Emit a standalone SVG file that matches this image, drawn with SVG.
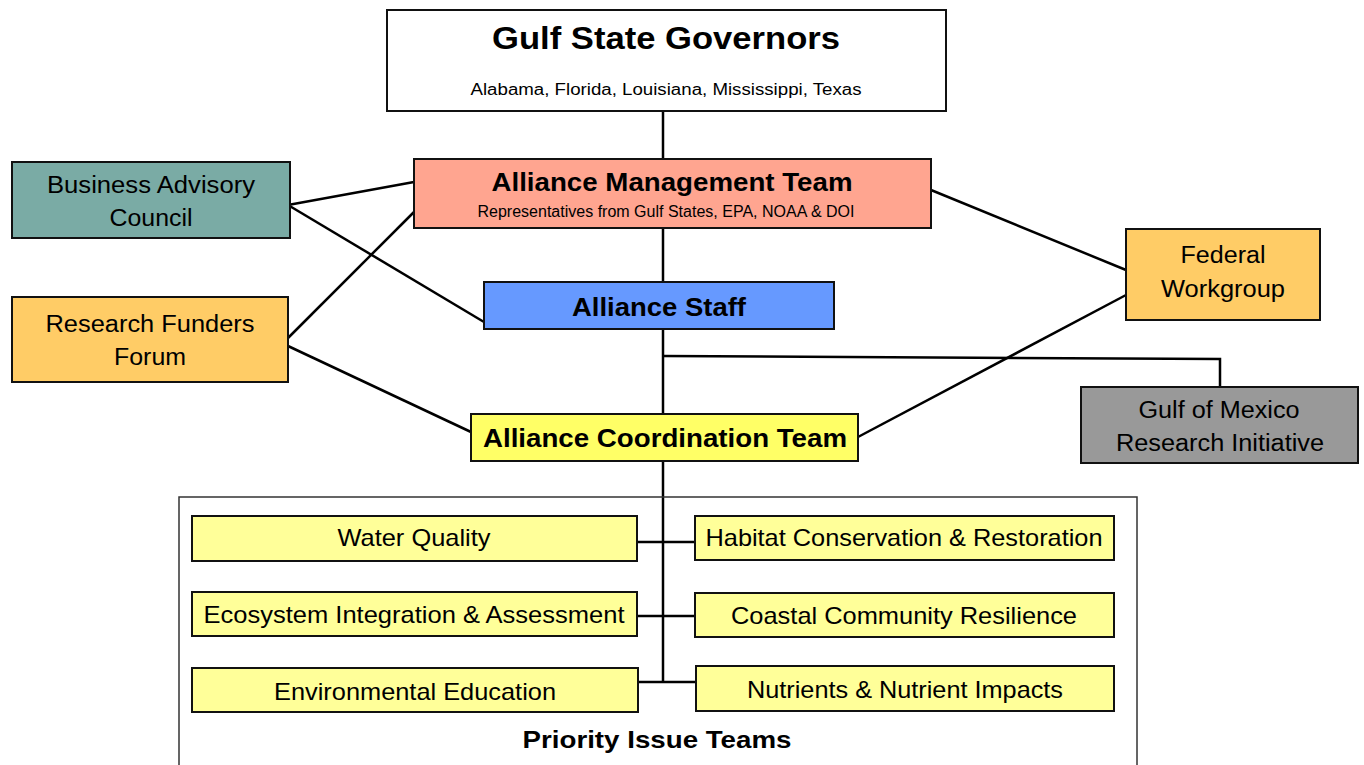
<svg xmlns="http://www.w3.org/2000/svg" width="1364" height="765" viewBox="0 0 1364 765">
<style>
.box{stroke:#111;stroke-width:2}
.t{font-family:"Liberation Sans",Arial,sans-serif;fill:#000;text-anchor:middle}
.b{font-weight:bold}
.c{stroke:#000;stroke-width:2.5;fill:none}
</style>
<rect width="1364" height="765" fill="#fff"/>
<g id="connectors">
<line class="c" x1="663" y1="111" x2="663" y2="159"/>
<line class="c" x1="663" y1="228" x2="663" y2="282"/>
<line class="c" x1="663" y1="329" x2="663" y2="414"/>
<line class="c" x1="663" y1="461" x2="663" y2="682"/>
<polyline class="c" points="663,356 1220,359 1220,387"/>
<line class="c" x1="288" y1="205" x2="414" y2="182"/>
<line class="c" x1="288" y1="205" x2="484" y2="322"/>
<line class="c" x1="288" y1="338" x2="414" y2="212"/>
<line class="c" x1="288" y1="346" x2="471" y2="432"/>
<line class="c" x1="931" y1="190" x2="1126" y2="270"/>
<line class="c" x1="858" y1="437" x2="1126" y2="295"/>
<line class="c" x1="637" y1="542" x2="695" y2="542"/>
<line class="c" x1="637" y1="616" x2="695" y2="616"/>
<line class="c" x1="638" y1="682" x2="696" y2="682"/>
</g>
<g id="governors">
<rect class="box" x="387" y="10" width="559" height="101" fill="#fff"/>
<text class="t b" x="666" y="49" font-size="32" textLength="348" lengthAdjust="spacingAndGlyphs">Gulf State Governors</text>
<text class="t" x="666" y="95" font-size="16" textLength="391" lengthAdjust="spacingAndGlyphs">Alabama, Florida, Louisiana, Mississippi, Texas</text>
</g>
<g id="management">
<rect class="box" x="414" y="159" width="517" height="69" fill="#FFA590"/>
<text class="t b" x="672" y="191" font-size="25" textLength="361" lengthAdjust="spacingAndGlyphs">Alliance Management Team</text>
<text class="t" x="666" y="217" font-size="16" textLength="377" lengthAdjust="spacingAndGlyphs">Representatives  from Gulf States, EPA, NOAA &amp; DOI</text>
</g>
<g id="business">
<rect class="box" x="12" y="162" width="278" height="76" fill="#7AABA5"/>
<text class="t" x="151" y="193" font-size="23" textLength="208" lengthAdjust="spacingAndGlyphs">Business Advisory</text>
<text class="t" x="151" y="226" font-size="23" textLength="83" lengthAdjust="spacingAndGlyphs">Council</text>
</g>
<g id="funders">
<rect class="box" x="12" y="297" width="276" height="85" fill="#FFCC66"/>
<text class="t" x="150" y="332" font-size="23" textLength="209" lengthAdjust="spacingAndGlyphs">Research Funders</text>
<text class="t" x="150" y="365" font-size="23" textLength="72" lengthAdjust="spacingAndGlyphs">Forum</text>
</g>
<g id="staff">
<rect class="box" x="484" y="282" width="350" height="47" fill="#6699FF"/>
<text class="t b" x="659" y="316" font-size="26" textLength="174" lengthAdjust="spacingAndGlyphs">Alliance Staff</text>
</g>
<g id="federal">
<rect class="box" x="1126" y="229" width="194" height="91" fill="#FFCC66"/>
<text class="t" x="1223" y="263" font-size="23" textLength="85" lengthAdjust="spacingAndGlyphs">Federal</text>
<text class="t" x="1223" y="297" font-size="23" textLength="124" lengthAdjust="spacingAndGlyphs">Workgroup</text>
</g>
<g id="gomri">
<rect class="box" x="1081" y="387" width="277" height="76" fill="#999999"/>
<text class="t" x="1219" y="418" font-size="23" textLength="161" lengthAdjust="spacingAndGlyphs">Gulf of Mexico</text>
<text class="t" x="1220" y="451" font-size="23" textLength="208" lengthAdjust="spacingAndGlyphs">Research Initiative</text>
</g>
<g id="coordination">
<rect class="box" x="471" y="414" width="387" height="47" fill="#FFFF66"/>
<text class="t b" x="665" y="447" font-size="26" textLength="364" lengthAdjust="spacingAndGlyphs">Alliance Coordination Team</text>
</g>
<g id="priority">
<rect x="179" y="497" width="958" height="280" fill="none" stroke="#333" stroke-width="1.5"/>
<text class="t b" x="657" y="748" font-size="24" textLength="269" lengthAdjust="spacingAndGlyphs">Priority Issue Teams</text>
</g>
<g id="water">
<rect class="box" x="192" y="516" width="445" height="45" fill="#FFFF99"/>
<text class="t" x="414" y="546" font-size="24" textLength="153" lengthAdjust="spacingAndGlyphs">Water Quality</text>
</g>
<g id="habitat">
<rect class="box" x="695" y="516" width="419" height="44" fill="#FFFF99"/>
<text class="t" x="904" y="546" font-size="24" textLength="397" lengthAdjust="spacingAndGlyphs">Habitat Conservation &amp; Restoration</text>
</g>
<g id="ecosystem">
<rect class="box" x="192" y="592" width="445" height="44" fill="#FFFF99"/>
<text class="t" x="414" y="623" font-size="24" textLength="421" lengthAdjust="spacingAndGlyphs">Ecosystem Integration &amp; Assessment</text>
</g>
<g id="coastal">
<rect class="box" x="695" y="593" width="419" height="44" fill="#FFFF99"/>
<text class="t" x="904" y="624" font-size="24" textLength="346" lengthAdjust="spacingAndGlyphs">Coastal Community Resilience</text>
</g>
<g id="education">
<rect class="box" x="192" y="668" width="446" height="44" fill="#FFFF99"/>
<text class="t" x="415" y="700" font-size="24" textLength="282" lengthAdjust="spacingAndGlyphs">Environmental Education</text>
</g>
<g id="nutrients">
<rect class="box" x="696" y="666" width="418" height="45" fill="#FFFF99"/>
<text class="t" x="905" y="698" font-size="24" textLength="316" lengthAdjust="spacingAndGlyphs">Nutrients &amp; Nutrient Impacts</text>
</g>
</svg>
